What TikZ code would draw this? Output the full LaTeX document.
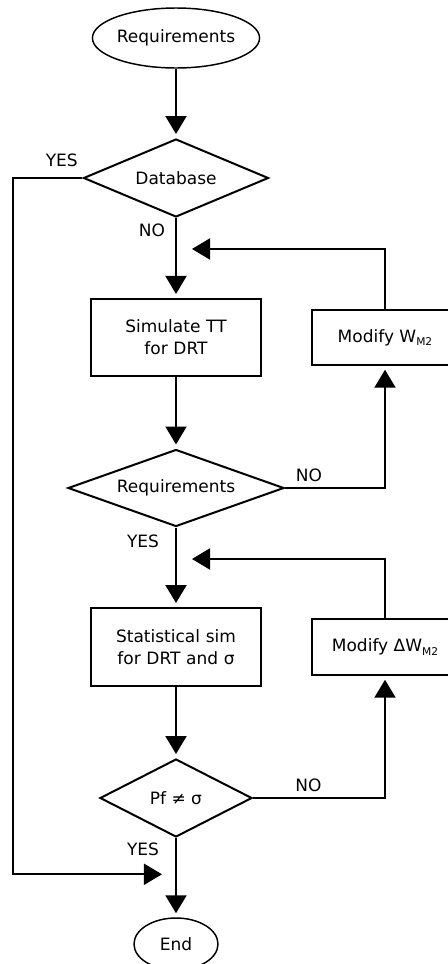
\documentclass[tikz,border=0pt]{standalone}
\usepackage{fontspec}
\setmainfont{DejaVu Sans}
\usepackage{tikz}
\usetikzlibrary{shapes.geometric, arrows.meta}
\tikzstyle{startstop} = [ellipse, minimum width=114pt, minimum height=45pt, inner sep=0pt, draw=black, line width=1.1pt]
\tikzstyle{process} = [rectangle, minimum width=127.5pt, minimum height=57.75pt, text centered, text width=120pt, draw=black, line width=1.5pt]
\tikzstyle{modify} = [rectangle, minimum width=109.5pt, minimum height=41.25pt, text centered, draw=black, line width=1.1pt]
\tikzstyle{decision} = [diamond, aspect=2.2, minimum height=58.5pt, inner sep=0pt, text centered, draw=black, line width=1.5pt]
\tikzstyle{arrow} = [line width=1.5pt, -{Triangle[length=13.5pt, width=15.75pt]}, shorten >=3pt]
\tikzstyle{lbl} = [inner sep=0pt]
\newcommand{\msub}{\raisebox{-2.5pt}{\fontsize{8pt}{8pt}\selectfont M2}}

\begin{document}
\begin{tikzpicture}[node distance=112pt, font=\fontsize{12.75pt}{16.25pt}\selectfont]
  \useasboundingbox (-132pt,28.5pt) rectangle (204pt,-694.5pt);
  \node (start) [startstop] at (0,0) {Requirements};
  \node (db) [decision, minimum width=138.75pt, below of=start, yshift=7pt] {Database};
  \node (sim) [process, below of=db, yshift=-7.6pt] {Simulate TT\\for DRT};
  \node (req) [decision, minimum width=162pt, minimum height=57.75pt, below of=sim, yshift=-0.9pt] {Requirements};
  \node (stat) [process, minimum height=58.5pt, below of=req, yshift=-7.25pt] {Statistical sim\\for DRT and σ};
  \node (pf) [decision, minimum width=114pt, below of=stat, yshift=-1.25pt] {Pf ≠ σ};
  \node (end) [startstop, minimum width=63pt, minimum height=39pt, below of=pf, yshift=2.5pt] {End};
  \node (modw) [modify, right of=sim, xshift=44.75pt] {Modify W\msub};
  \node (modd) [modify, minimum height=42pt, right of=stat, xshift=44.75pt] {Modify ΔW\msub};

  \coordinate (j1) at ([xshift=9pt, yshift=36.75pt]sim.north);
  \coordinate (j2) at ([xshift=9pt, yshift=36pt]stat.north);
  \coordinate (j3) at ([xshift=-7.5pt, yshift=32.25pt]end.north);

  \draw [arrow] (start) -- (db);
  \draw [arrow] (db) -- node[lbl, pos=0.16, xshift=-18pt] {NO} (sim);
  \draw [arrow] (db.west) -- node[lbl, pos=0.3, yshift=13.5pt] {YES} +(-51.75pt,0) |- (j3);
  \draw [arrow] (sim) -- (req);
  \draw [arrow] (req.east) -| node[lbl, pos=0.12, yshift=9.75pt] {NO} (modw.south);
  \draw [arrow] (modw.north) |- (j1);
  \draw [arrow] (req) -- node[lbl, pos=0.17, xshift=-24.75pt] {YES} (stat);
  \draw [arrow] (stat) -- (pf);
  \draw [arrow] (pf.east) -| node[lbl, pos=0.21, yshift=9.75pt] {NO} (modd.south);
  \draw [arrow] (modd.north) |- (j2);
  \draw [arrow] (pf) -- node[lbl, pos=0.14, xshift=-24.75pt] {YES} (end);
\end{tikzpicture}
\end{document}
